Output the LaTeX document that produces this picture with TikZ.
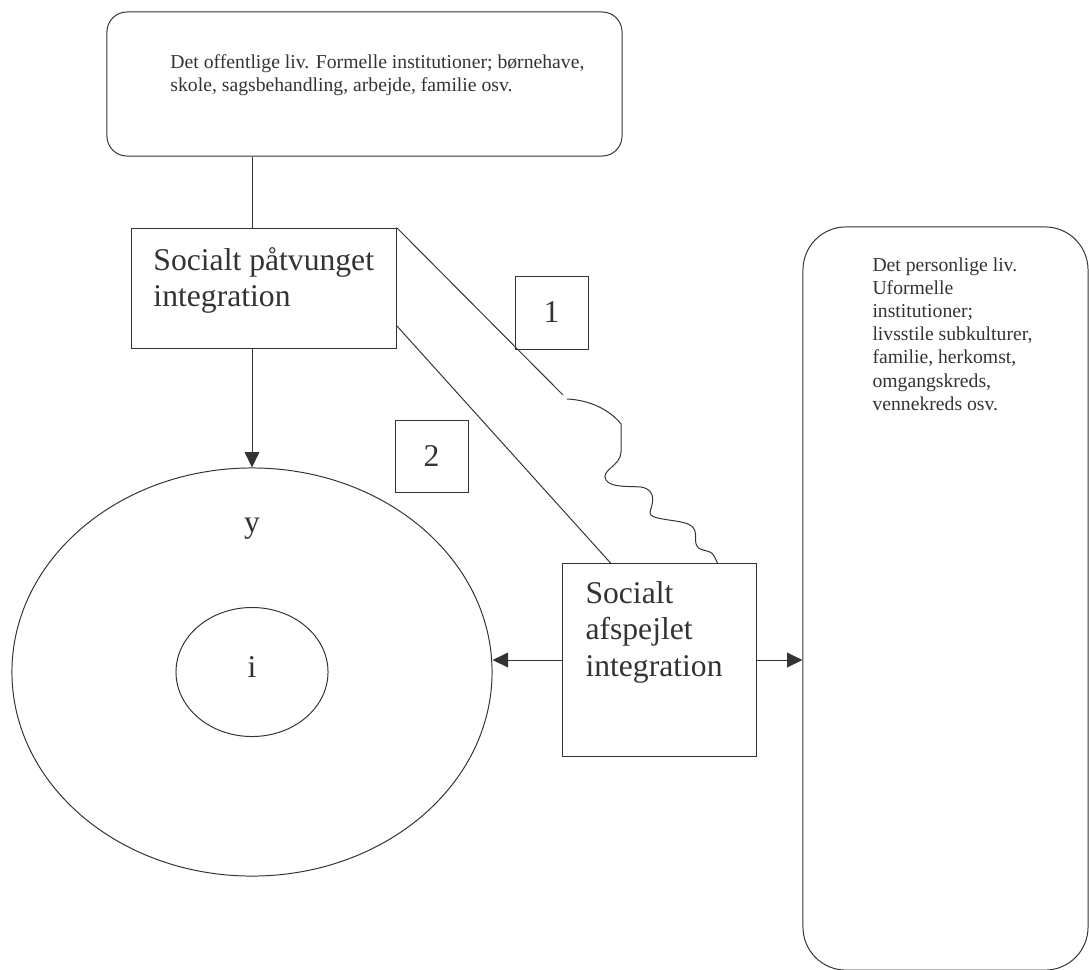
\documentclass[tikz,border=0pt]{standalone}
\usepackage{fontspec}
\setmainfont{Liberation Serif}
\usepackage{tikz}
\usetikzlibrary{arrows.meta,shapes.geometric,calc}

\begin{document}
\begin{tikzpicture}[x=0.025cm,y=-0.025cm,line width=0.7pt,color=black!80,
    box/.style={draw,rectangle,inner sep=0pt},
    roundbox/.style={box,rounded corners=#1},
    oval/.style={draw,ellipse,inner sep=0pt},
    big/.style={font=\fontsize{22.5}{25.8}\selectfont},
    small/.style={font=\fontsize{14}{16.5}\selectfont},
    tip/.style={-{Triangle[length=11pt,width=10.5pt]}}]
    \useasboundingbox (0,0) rectangle (1089,969);

    % Draw the two rounded boxes
    \node[roundbox=0.5cm,minimum width=12.875cm,minimum height=3.6cm] (pub) at (364.5,84) {};
    \node[small,align=left,anchor=north west,inner sep=0pt] (pubtxt) at (170,54)
        {Det offentlige liv. Formelle institutioner; børnehave,\\skole, sagsbehandling, arbejde, familie osv.};
    \node[roundbox=1.075cm,minimum width=7.125cm,minimum height=18.575cm] (priv) at (945.5,598.5) {};
    \node[small,align=left,anchor=north west,inner sep=0pt] (privtxt) at (872,257)
        {Det personlige liv.\\Uformelle\\institutioner;\\livsstile subkulturer,\\familie, herkomst,\\omgangskreds,\\vennekreds osv.};

    % Draw the integration boxes
    \node[box,minimum width=6.6cm,minimum height=3cm] (push) at (264,288) {};
    \node[big,align=left,anchor=north west,inner sep=0pt] (pushtxt) at (153,247)
        {Socialt påtvunget\\integration};
    \node[box,minimum width=4.825cm,minimum height=4.8cm] (mirror) at (659.5,660) {};
    \node[big,align=left,anchor=north west,inner sep=0pt] (mirrortxt) at (585,581)
        {Socialt\\afspejlet\\integration};

    % Number boxes
    \node[box,big,minimum width=1.825cm,minimum height=1.825cm] (one) at (551.5,312.5) {1};
    \node[box,big,minimum width=1.825cm,minimum height=1.8cm] (two) at (431.5,456) {2};

    % Draw the ellipses
    \node[oval,minimum width=12cm,minimum height=10.2cm] (outer) at (252,672) {};
    \node[oval,minimum width=3.8cm,minimum height=3.225cm] (inner) at (252,672) {};
    \node[big,anchor=base] (ylab) at (252,532) {y};
    \node[big,anchor=base] (ilab) at (252,677) {i};

    % Connectors
    \draw (pub.south -| outer.north) -- (push.north -| outer.north);
    \draw[tip] (push.south -| outer.north) -- (outer.north);
    \coordinate (brk) at (563,395);
    \coordinate (wav) at (567,399);
    \draw (push.north east) -- (brk);
    \draw (wav) .. controls (590,400) and (610,410) .. (621,424) -- (621,452)
        .. controls (621,466) and (600,470) .. (606,480)
        .. controls (611,488) and (630,486) .. (641,487)
        .. controls (658,490) and (652,505) .. (650,512)
        .. controls (648,520) and (675,519) .. (688,524)
        .. controls (700,529) and (693,540) .. (697,546)
        .. controls (700,552) and (711,549) .. (714,556)
        -- ($(mirror.north west)!0.8!(mirror.north east)$);
    \draw ($(push.north east)!0.81!(push.south east)$) -- ($(mirror.north west)!0.25!(mirror.north east)$);
    \draw[tip] (mirror.west) -- (mirror.west -| outer.east);
    \draw[tip] (mirror.east) -- (mirror.east -| priv.west);
\end{tikzpicture}
\end{document}
